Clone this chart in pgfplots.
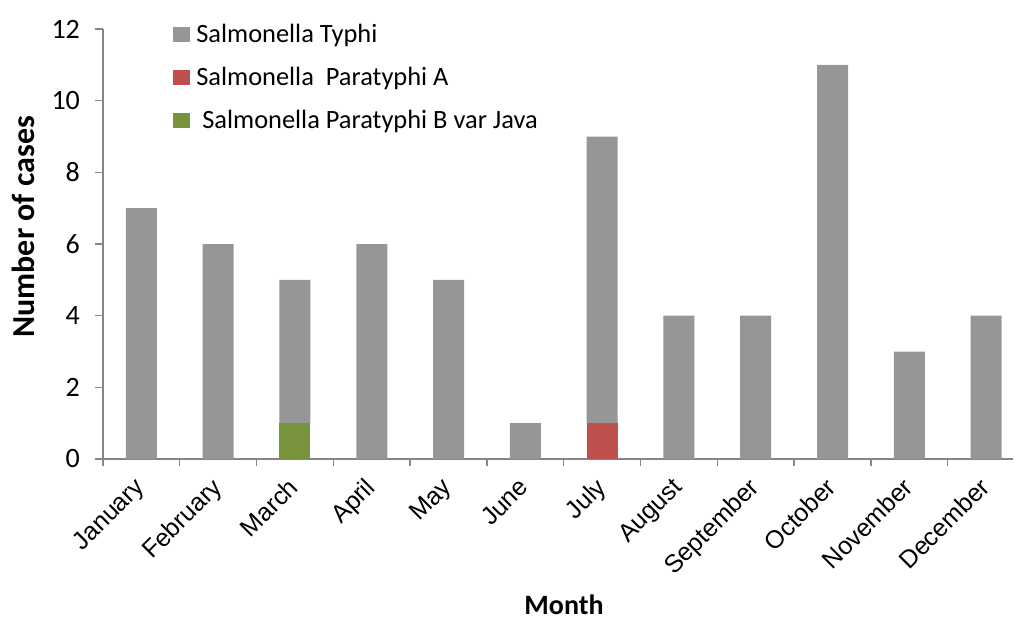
\documentclass[border=0pt]{standalone}
\usepackage{fontspec}
\setmainfont{Carlito}
\newfontfamily\arialfont{Liberation Sans}
\usepackage{pgfplots}
\pgfplotsset{compat=1.18}
\usetikzlibrary{calc}
\definecolor{typhi}{HTML}{969696}
\definecolor{paraA}{HTML}{C0504D}
\definecolor{paraB}{HTML}{77933C}
\definecolor{axisgray}{HTML}{868686}

\begin{document}
\begin{tikzpicture}
\begin{axis}[
  name=ax,
  scale only axis,
  width=455pt, height=215pt,
  ybar stacked, bar width=15.5pt,
  xmin=-0.5, xmax=11.35,
  ymin=0, ymax=12,
  enlargelimits=false,
  ytick={0,2,...,12},
  xtick={0,...,11},
  xticklabels={January,February,March,April,May,June,July,August,September,October,November,December},
  minor xtick={-0.5,0.5,...,10.5},
  axis x line=bottom, axis y line=left,
  axis line style={-, draw=axisgray, line width=1pt},
  tick align=outside,
  major tick length=4pt,
  minor tick length=3.5pt,
  every tick/.style={axisgray, line width=0.7pt},
  every major x tick/.style={draw=none},
  /pgf/number format/assume math mode=true,
  yticklabel style={font=\fontsize{14}{16}\selectfont, xshift=-4pt},
  xticklabel style={font=\arialfont\fontsize{12.5}{14}\selectfont, xshift=-4pt, yshift=-3pt, rotate=45, anchor=north east, inner sep=1pt},
  every axis y label/.style={at={(axis description cs:-0.087,0.54)}, rotate=90, anchor=center, inner sep=0pt, font=\bfseries\fontsize{16}{19}\selectfont},
  every axis x label/.style={at={(axis description cs:0.5066,-0.339)}, anchor=center, inner sep=0pt, font=\bfseries\fontsize{14}{17}\selectfont},
  ylabel={Number of cases},
  xlabel={Month},
  reverse legend,
  legend cell align=left,
  legend image code/.code={\fill[#1] (0pt,-3.75pt) rectangle (8.5pt,3.75pt);},
  legend style={at={(axis description cs:0.0769,1.022)}, anchor=north west, draw=none, fill=none,
    font=\fontsize{13.2}{16}\selectfont, row sep=6.8pt, inner sep=0pt,
    /tikz/every odd column/.append style={column sep=1pt}},
]
\addplot[fill=paraB, draw=none] coordinates {(0,0)(1,0)(2,1)(3,0)(4,0)(5,0)(6,0)(7,0)(8,0)(9,0)(10,0)(11,0)};
\addlegendentry{\ Salmonella Paratyphi B var Java}
\addplot[fill=paraA, draw=none] coordinates {(0,0)(1,0)(2,0)(3,0)(4,0)(5,0)(6,1)(7,0)(8,0)(9,0)(10,0)(11,0)};
\addlegendentry{Salmonella\ \ Paratyphi A}
\addplot[fill=typhi, draw=none] coordinates {(0,7)(1,6)(2,4)(3,6)(4,5)(5,1)(6,8)(7,4)(8,4)(9,11)(10,3)(11,4)};
\addlegendentry{Salmonella Typhi}
\end{axis}
\pgfresetboundingbox
\path[use as bounding box] ($(ax.south west)+(-51.5pt,-79.5pt)$) rectangle ($(ax.south west)+(455.5pt,229.5pt)$);
\end{tikzpicture}
\end{document}
